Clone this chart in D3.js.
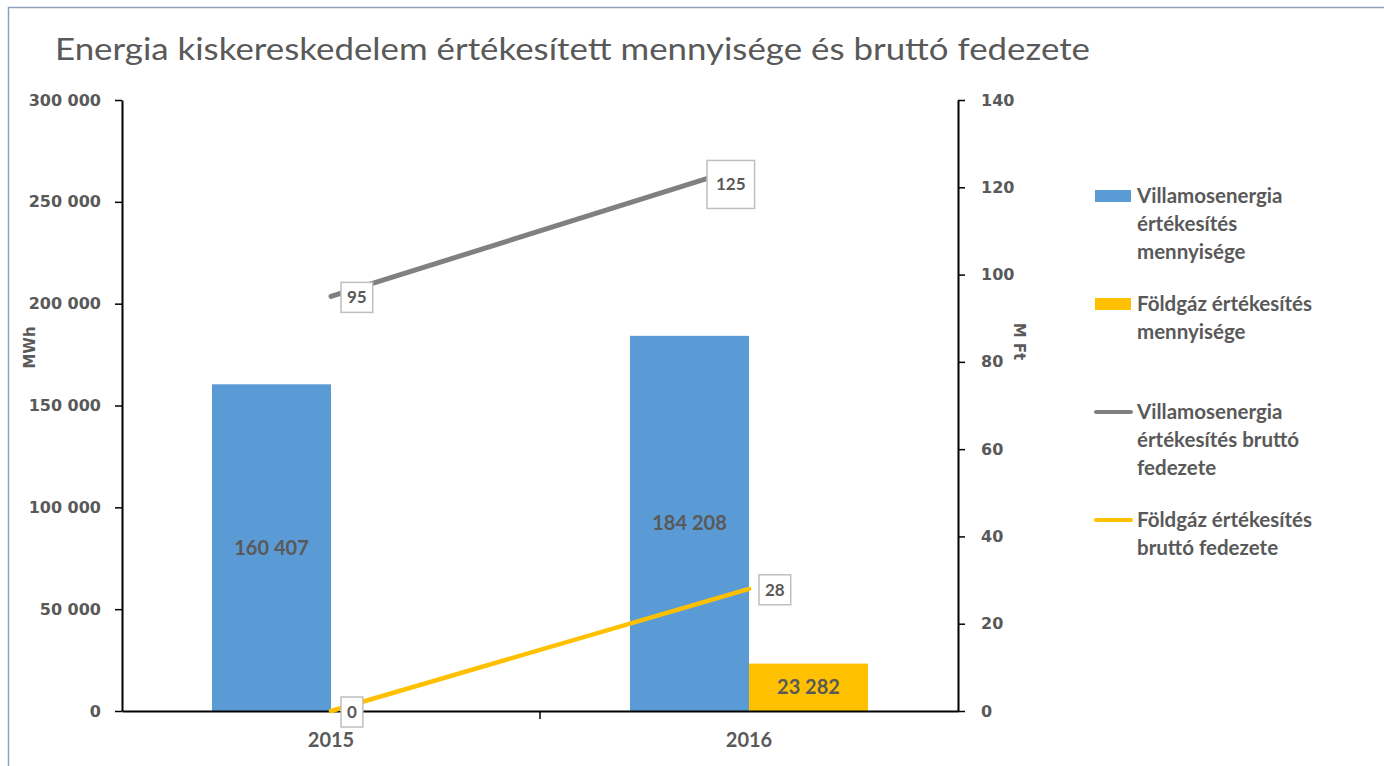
<!DOCTYPE html>
<html>
<head>
<meta charset="utf-8">
<script src="https://cdn.jsdelivr.net/npm/d3@7"></script>
<style>
    html, body { margin: 0; padding: 0; background: #fff; }
    svg { display: block; }
</style>
</head>
<body>
<div id="chart"></div>
<script>
// chart data
const years = ["2015", "2016"];
const villamosMennyiseg = [160407, 184208];   // MWh
const foldgazMennyiseg = [0, 23282];          // MWh
const villamosFedezet = [95, 125];            // M Ft
const foldgazFedezet = [0, 28];               // M Ft
const leftTicks = [0, 50000, 100000, 150000, 200000, 250000, 300000];
const rightTicks = [0, 20, 40, 60, 80, 100, 120, 140];

const title = "Energia kiskereskedelem értékesített mennyisége és bruttó fedezete";
const legendItems = [
    { type: "bar", color: "#5B9BD5", lines: ["Villamosenergia", "értékesítés", "mennyisége"] },
    { type: "bar", color: "#FFC000", lines: ["Földgáz értékesítés", "mennyisége"] },
    { type: "line", color: "#808080", lines: ["Villamosenergia", "értékesítés bruttó", "fedezete"] },
    { type: "line", color: "#FFC000", lines: ["Földgáz értékesítés", "bruttó fedezete"] }
];

const W = 1384, H = 766;
const textColor = "#595959";
const calibri = "Lato, 'Open Sans', sans-serif";
const tahoma = "'DejaVu Sans', Verdana, sans-serif";

const svg = d3.select("#chart").append("svg")
    .attr("width", W)
    .attr("height", H);

// outer frame (only top and left edge are inside the picture)
svg.append("path")
    .attr("d", `M8.5,${H} V7.5 H${W}`)
    .attr("fill", "none")
    .attr("stroke", "#8EA0BA")
    .attr("stroke-width", 1.5);

svg.append("text")
    .attr("x", 55)
    .attr("y", 60)
    .attr("font-family", calibri)
    .attr("font-size", 31)
    .attr("fill", textColor)
    .attr("textLength", 1035)
    .attr("lengthAdjust", "spacingAndGlyphs")
    .text(title);

const plot = { left: 122, right: 958, top: 100, bottom: 711 };

const x = d3.scaleBand()
    .domain(years)
    .range([plot.left, plot.right]);

const series = ["villamos", "foldgaz"];
const groupPad = 90;
const xInner = d3.scaleBand()
    .domain(series)
    .range([groupPad, x.bandwidth() - groupPad]);

const yLeft = d3.scaleLinear()
    .domain([0, 300000])
    .range([plot.bottom, plot.top]);

const yRight = d3.scaleLinear()
    .domain([0, 140])
    .range([plot.bottom, plot.top]);

const fmt = v => d3.format(",")(v).replace(/,/g, " ");

// bars
const barData = [];
years.forEach((yr, i) => {
    barData.push({ year: yr, key: "villamos", value: villamosMennyiseg[i], color: "#5B9BD5" });
    barData.push({ year: yr, key: "foldgaz", value: foldgazMennyiseg[i], color: "#FFC000" });
});

const bars = svg.append("g").attr("class", "bars");
bars.selectAll("rect")
    .data(barData)
    .enter()
    .append("rect")
    .attr("x", d => x(d.year) + xInner(d.key))
    .attr("y", d => yLeft(d.value))
    .attr("width", xInner.bandwidth())
    .attr("height", d => plot.bottom - yLeft(d.value))
    .attr("fill", d => d.color);

bars.selectAll("text")
    .data(barData.filter(d => d.value > 0))
    .enter()
    .append("text")
    .attr("x", d => x(d.year) + xInner(d.key) + xInner.bandwidth() / 2)
    .attr("y", d => (yLeft(d.value) + plot.bottom) / 2)
    .attr("dy", "0.35em")
    .attr("text-anchor", "middle")
    .attr("font-family", calibri)
    .attr("font-weight", "bold")
    .attr("font-size", 20)
    .attr("fill", textColor)
    .text(d => fmt(d.value));

// axes
const leftAxis = svg.append("g")
    .attr("transform", `translate(${plot.left},0)`)
    .call(d3.axisLeft(yLeft).tickValues(leftTicks).tickFormat(fmt).tickSize(7).tickSizeOuter(0).tickPadding(14));

const rightAxis = svg.append("g")
    .attr("transform", `translate(${plot.right},0)`)
    .call(d3.axisRight(yRight).tickValues(rightTicks).tickSize(7).tickSizeOuter(0).tickPadding(16));

[leftAxis, rightAxis].forEach(ax => {
    ax.select(".domain").attr("stroke", "#000").attr("stroke-width", 2);
    ax.selectAll(".tick line").attr("stroke", "#000").attr("stroke-width", 1.5);
    ax.selectAll(".tick text")
        .attr("font-family", tahoma)
        .attr("font-weight", "bold")
        .attr("font-size", 16)
        .attr("fill", textColor);
});

const xAxis = svg.append("g")
    .attr("transform", `translate(0,${plot.bottom})`)
    .call(d3.axisBottom(x).tickSize(0).tickPadding(22));
xAxis.select(".domain").attr("stroke", "#000").attr("stroke-width", 2);
xAxis.selectAll(".tick text")
    .attr("font-family", calibri)
    .attr("font-weight", "bold")
    .attr("font-size", 20)
    .attr("fill", textColor);
// tick marks between categories
xAxis.selectAll(".sep")
    .data(years.slice(1))
    .enter()
    .append("line")
    .attr("x1", d => x(d))
    .attr("x2", d => x(d))
    .attr("y1", 0)
    .attr("y2", 8)
    .attr("stroke", "#000")
    .attr("stroke-width", 1.5);

// axis titles
svg.append("text")
    .attr("transform", `translate(35,${(plot.top + plot.bottom) / 2 - 58}) rotate(-90)`)
    .attr("text-anchor", "middle")
    .attr("font-family", tahoma)
    .attr("font-weight", "bold")
    .attr("font-size", 15)
    .attr("fill", textColor)
    .text("MWh");

svg.append("text")
    .attr("transform", `translate(1014,${(plot.top + plot.bottom) / 2 - 64}) rotate(90)`)
    .attr("text-anchor", "middle")
    .attr("font-family", tahoma)
    .attr("font-weight", "bold")
    .attr("font-size", 15)
    .attr("fill", textColor)
    .text("M Ft");

// lines
const cx = yr => x(yr) + x.bandwidth() / 2;
const lineGen = d3.line()
    .x(d => cx(d.year))
    .y(d => yRight(d.value));

const lineSeries = [
    { color: "#808080", width: 5, values: villamosFedezet },
    { color: "#FFC000", width: 4.5, values: foldgazFedezet }
];

lineSeries.forEach(s => {
    const pts = years.map((yr, i) => ({ year: yr, value: s.values[i] }));
    svg.append("path")
        .datum(pts)
        .attr("d", lineGen)
        .attr("fill", "none")
        .attr("stroke", s.color)
        .attr("stroke-width", s.width)
        .attr("stroke-linecap", "round");
});

// line data labels (boxed). the last grey label was moved left/down in the original
const labelLayer = svg.append("g");
lineSeries.forEach((s, si) => {
    years.forEach((yr, i) => {
        const px = cx(yr), py = yRight(s.values[i]);
        const moved = si === 0 && i === 1;
        const t = labelLayer.append("text")
            .attr("font-family", calibri)
            .attr("font-weight", "bold")
            .attr("font-size", 17)
            .attr("fill", textColor)
            .attr("text-anchor", "middle")
            .attr("dy", "0.35em")
            .text(s.values[i]);
        const tw = t.node().getComputedTextLength();
        const bw = tw + (moved ? 18 : 12);
        const bh = moved ? 48 : 30;
        const bx = moved ? px - 42 : px + 10;
        const by = moved ? py + 19 : py + 1;
        t.attr("x", bx + bw / 2).attr("y", by);
        labelLayer.insert("rect", "text")
            .attr("x", bx)
            .attr("y", by - bh / 2)
            .attr("width", bw)
            .attr("height", bh)
            .attr("fill", "#fff")
            .attr("stroke", "#BFBFBF")
            .attr("stroke-width", 1.5);
    });
});

// legend
const legend = svg.append("g").attr("transform", "translate(1095,0)");
const legendY = [196, 304, 412, 520];
const lineH = 28;
legendItems.forEach((item, k) => {
    const y0 = legendY[k];
    if (item.type === "bar") {
        legend.append("rect")
            .attr("x", 0).attr("y", y0 - 6)
            .attr("width", 36).attr("height", 12)
            .attr("fill", item.color);
    } else {
        legend.append("line")
            .attr("x1", 1).attr("x2", 36)
            .attr("y1", y0).attr("y2", y0)
            .attr("stroke", item.color)
            .attr("stroke-width", 4)
            .attr("stroke-linecap", "round");
    }
    const t = legend.append("text")
        .attr("x", 42)
        .attr("y", y0)
        .attr("font-family", calibri)
        .attr("font-weight", "bold")
        .attr("font-size", 20.5)
        .attr("fill", textColor);
    item.lines.forEach((ln, j) => {
        t.append("tspan")
            .attr("x", 42)
            .attr("y", y0 + j * lineH)
            .attr("dy", "0.35em")
            .text(ln);
    });
});
</script>
</body>
</html>
